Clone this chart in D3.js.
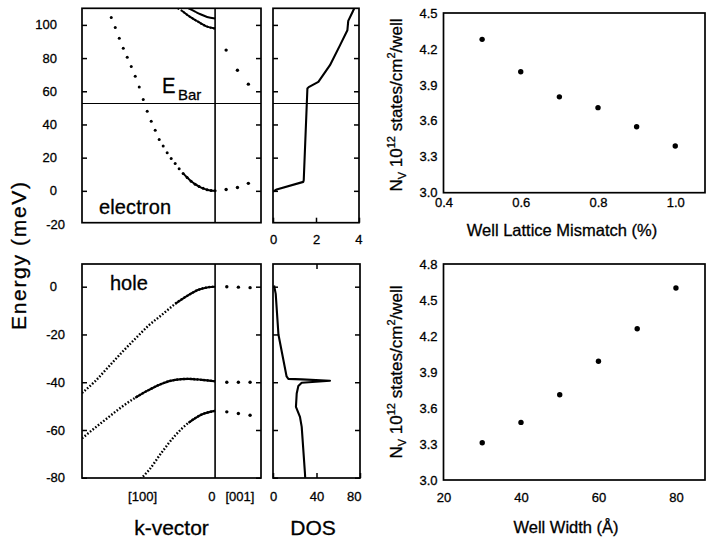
<!DOCTYPE html>
<html><head><meta charset="utf-8">
<script src="https://cdn.jsdelivr.net/npm/d3@7"></script>
<style>
body{margin:0;background:#fff}
svg{display:block}
text{font-family:"Liberation Sans",Arial,Helvetica,sans-serif;fill:#000;stroke:#000;stroke-width:0.3px}
</style>
</head><body>
<svg id="c" width="708" height="544"></svg>
<script>
// ---------------- DATA ----------------
// electron band along [100] : sampled dots (k, meV)
const elecK = [-0.78,-0.75,-0.72,-0.69,-0.66,-0.63,-0.60,-0.57,-0.54,-0.51,-0.48,-0.45,-0.42,-0.39,-0.36,-0.33,-0.30,-0.27,-0.24,-0.21,-0.18,-0.15,-0.12,-0.09,-0.06,-0.03,0];
const elecE = [104.5,98.5,92,86,80.5,75,69,62.5,55,48,42,36.5,31,27,23,19.5,16.5,13.3,10.5,8,5.8,4,2.6,1.5,0.7,0.2,0];
// upper electron subbands near k=0
const elecU1 = [[-0.2,110],[-0.15,108],[-0.11,106.4],[-0.06,104.8],[0,103.8]];
const elecU2 = [[-0.28,110],[-0.25,108.5],[-0.2,105.5],[-0.14,102.5],[-0.07,99.3],[0,97.8]];
// electron dots along [001]
const elec001a = [[0.083,84.8],[0.168,72.7],[0.25,64.3]];
const elec001b = [[0.083,0.8],[0.168,2],[0.25,4.5]];
// barrier energy (meV)
const eBar = 52.6;
// hole bands along [100]
const holeHH1 = [[-1.0,-44.5],[-0.9,-39.5],[-0.8,-33.5],[-0.7,-27.5],[-0.6,-21.8],[-0.5,-16.3],[-0.4,-11.8],[-0.3,-7.2],[-0.2,-3.5],[-0.12,-1.2],[-0.05,-0.2],[0,0]];
const holeLH1 = [[-1.0,-63.5],[-0.9,-59],[-0.8,-54.6],[-0.7,-50.3],[-0.6,-46.5],[-0.5,-43.3],[-0.4,-40.6],[-0.3,-39],[-0.2,-38.6],[-0.1,-39],[0,-39.6]];
const holeHH2 = [[-0.56,-80.5],[-0.5,-77],[-0.4,-69.3],[-0.3,-62.3],[-0.2,-57],[-0.1,-53.5],[0,-52]];
// hole dots along [001]
const hole001a = [[0.088,0],[0.175,-0.2],[0.263,-0.4]];
const hole001b = [[0.088,-40],[0.175,-40],[0.263,-40]];
const hole001c = [[0.088,-52.4],[0.175,-53.1],[0.263,-53.8]];
// density of states: [DOS, meV]
const dosElec = [[0,-0.5],[0.17,0.8],[1.41,5.4],[1.43,6.5],[1.6,61.7],[1.66,62.5],[2.11,65.7],[2.65,75.7],[3.12,87.8],[3.46,96.8],[3.5,102.4],[3.7,107.8],[3.78,110]];
const dosHole = [[1,0.5],[2.5,-3],[5,-20],[12.5,-37.6],[14.1,-38.6],[26.4,-38.8],[52.4,-39.4],[26.4,-40.2],[23.3,-41.6],[21.8,-44.7],[21.1,-50.3],[24.8,-54.5],[26.4,-58.7],[29.4,-78.2],[29.6,-80]];
// Nv vs mismatch
const mismatch = [0.5,0.6,0.7,0.8,0.9,1.0];
const nvMismatch = [4.28,4.01,3.80,3.71,3.55,3.39];
// Nv vs well width
const width = [30,40,50,60,70,80];
const nvWidth = [3.31,3.48,3.71,3.99,4.26,4.60];
// ticks
const eTopTicks = [0,20,40,60,80,100];
const eTopLabels = [-20,0,20,40,60,80,100];
const eBotTicks = [-80,-60,-40,-20,0];
const dosTopTicks = [0,2,4];
const dosBotTicks = [0,40,80];
const mismatchTicks = [0.4,0.6,0.8,1.0];
const widthTicks = [20,40,60,80];
const nvTicksTop = [3.0,3.3,3.6,3.9,4.2,4.5];
const nvTicksBot = [3.0,3.3,3.6,3.9,4.2,4.5,4.8];

// ---------------- SCALES ----------------
const svg = d3.select("#c");
const FONT = '"Liberation Sans", Arial, Helvetica, sans-serif';
const kX = d3.scaleLinear().domain([-1, 0.345]).range([82, 261]);
const eTopY = d3.scaleLinear().domain([-19.2, 110]).range([222.7, 8.3]);
const eBotY = d3.scaleLinear().domain([-80.1, 9.5]).range([478, 264]);
const dosTopX = d3.scaleLinear().domain([0, 4]).range([273, 359]);
const dosBotX = d3.scaleLinear().domain([0, 80]).range([273, 360]);
const mX = d3.scaleLinear().domain([0.4, 1.077]).range([443.5, 705]);
const mY = d3.scaleLinear().domain([3.0, 4.5]).range([192.7, 13]);
const wX = d3.scaleLinear().domain([20, 87.5]).range([443.5, 705]);
const wY = d3.scaleLinear().domain([3.0, 4.8]).range([480, 264]);

// ---------------- HELPERS ----------------
let clipId = 0;
function panel(xs, ys) {
  const [x0, x1] = xs.range(), [y0, y1] = [ys.range()[1], ys.range()[0]];
  const id = "clip" + (clipId++);
  svg.append("clipPath").attr("id", id).append("rect")
    .attr("x", x0).attr("y", y0).attr("width", x1 - x0).attr("height", y1 - y0);
  const g = svg.append("g").attr("clip-path", `url(#${id})`);
  return {g, x0, x1, y0, y1};
}
function frame(p) {
  svg.append("rect").attr("x", p.x0).attr("y", p.y0).attr("width", p.x1 - p.x0).attr("height", p.y1 - p.y0)
    .attr("fill", "none").attr("stroke", "#000").attr("stroke-width", 1.7);
}
function styleAxis(g) {
  g.attr("font-family", FONT).attr("font-size", 13);
  g.select(".domain").remove();
  g.selectAll("line").attr("stroke-width", 1.5);
}

// ---------------- BAND STRUCTURE (electron) ----------------
const pE = panel(kX, eTopY);
const bandLine = (ys) => d3.line().x(d => kX(d[0])).y(d => ys(d[1])).curve(d3.curveMonotoneX);
pE.g.selectAll("circle.e").data(elecK).join("circle")
  .attr("cx", (d) => kX(d)).attr("cy", (d, i) => eTopY(elecE[i])).attr("r", 1.5);
pE.g.append("path").datum(elecK.map((k, i) => [k, elecE[i]]).filter(d => d[0] >= -0.24))
  .attr("d", bandLine(eTopY)).attr("fill", "none").attr("stroke", "#000").attr("stroke-width", 2);
pE.g.append("path").datum(elecU1).attr("d", bandLine(eTopY)).attr("fill", "none").attr("stroke", "#000").attr("stroke-width", 2);
pE.g.append("path").datum(elecU2).attr("d", bandLine(eTopY)).attr("fill", "none").attr("stroke", "#000").attr("stroke-width", 2).attr("stroke-dasharray", "1.6,1.8");
pE.g.append("path").datum(elecU2.filter(d => d[0] >= -0.25)).attr("d", bandLine(eTopY)).attr("fill", "none").attr("stroke", "#000").attr("stroke-width", 2);
pE.g.selectAll("circle.d1").data(elec001a.concat(elec001b)).join("circle")
  .attr("cx", d => kX(d[0])).attr("cy", d => eTopY(d[1])).attr("r", 1.7);
// divider k=0 and barrier line
svg.append("line").attr("x1", kX(0)).attr("x2", kX(0)).attr("y1", pE.y0).attr("y2", pE.y1).attr("stroke", "#000").attr("stroke-width", 1.6);
svg.append("line").attr("x1", pE.x0).attr("x2", pE.x1).attr("y1", eTopY(eBar)).attr("y2", eTopY(eBar)).attr("stroke", "#000").attr("stroke-width", 1.1);
frame(pE);
svg.append("g").attr("transform", `translate(${pE.x0},0)`)
  .call(d3.axisLeft(eTopY).tickValues(eTopTicks).tickSizeInner(-5).tickSizeOuter(0).tickFormat("")).call(styleAxis);
svg.append("g").attr("transform", `translate(${pE.x1},0)`)
  .call(d3.axisRight(eTopY).tickValues(eTopTicks).tickSizeInner(-5).tickSizeOuter(0).tickFormat("")).call(styleAxis);
svg.append("g").selectAll("text").data(eTopLabels).join("text")
  .attr("x", d => d < 0 ? 65 : 57).attr("y", d => eTopY(d) + 4.6).attr("text-anchor", "end").attr("font-size", 13).text(d => d);

svg.append("text").attr("x", 99).attr("y", 214).attr("font-size", 20).attr("textLength", 72).text("electron");
svg.append("text").attr("x", 162).attr("y", 93).attr("font-size", 22).attr("textLength", 13.5).attr("lengthAdjust","spacingAndGlyphs").text("E");
svg.append("text").attr("x", 178).attr("y", 100).attr("font-size", 15).text("Bar");

// ---------------- DOS (electron) ----------------
const pDE = panel(dosTopX, eTopY);
pDE.g.append("path").datum(dosElec).attr("d", d3.line().x(d => dosTopX(d[0])).y(d => eTopY(d[1])))
  .attr("fill", "none").attr("stroke", "#000").attr("stroke-width", 2.1).attr("stroke-linejoin", "round");
svg.append("line").attr("x1", pDE.x0).attr("x2", pDE.x1).attr("y1", eTopY(eBar)).attr("y2", eTopY(eBar)).attr("stroke", "#000").attr("stroke-width", 1.1);
frame(pDE);
svg.append("g").attr("transform", `translate(${pDE.x0},0)`)
  .call(d3.axisLeft(eTopY).tickValues(eTopTicks).tickSizeInner(-5).tickSizeOuter(0).tickFormat("")).call(styleAxis);
svg.append("g").attr("transform", `translate(${pDE.x1},0)`)
  .call(d3.axisRight(eTopY).tickValues(eTopTicks).tickSizeInner(-5).tickSizeOuter(0).tickFormat("")).call(styleAxis);
svg.append("g").attr("transform", `translate(0,${pDE.y1})`)
  .call(d3.axisBottom(dosTopX).tickValues(dosTopTicks).tickSizeInner(-5).tickSizeOuter(0).tickPadding(12.5).tickFormat(d3.format("d"))).call(styleAxis)
  .call(g => g.selectAll(".tick text").attr("text-anchor", (d, i, n) => i === n.length - 1 ? "end" : "middle").attr("dx", (d, i, n) => i === n.length - 1 ? 3 : 0));

// ---------------- BAND STRUCTURE (hole) ----------------
const pH = panel(kX, eBotY);
const dotted = (data, solidFrom) => {
  pH.g.append("path").datum(data).attr("d", bandLine(eBotY)).attr("fill", "none").attr("stroke", "#000")
    .attr("stroke-width", 2.4).attr("stroke-dasharray", "1.6,1.8");
  pH.g.append("path").datum(data.filter(d => d[0] >= solidFrom)).attr("d", bandLine(eBotY)).attr("fill", "none")
    .attr("stroke", "#000").attr("stroke-width", 2.1);
};
dotted(holeHH1, -0.3);
dotted(holeLH1, -0.6);
dotted(holeHH2, -0.2);
pH.g.selectAll("circle.h").data(hole001a.concat(hole001b, hole001c)).join("circle")
  .attr("cx", d => kX(d[0])).attr("cy", d => eBotY(d[1])).attr("r", 1.7);
svg.append("line").attr("x1", kX(0)).attr("x2", kX(0)).attr("y1", pH.y0).attr("y2", pH.y1).attr("stroke", "#000").attr("stroke-width", 1.6);
frame(pH);
svg.append("g").attr("transform", `translate(${pH.x0},0)`)
  .call(d3.axisLeft(eBotY).tickValues(eBotTicks).tickSizeInner(-5).tickSizeOuter(0).tickFormat("")).call(styleAxis);
svg.append("g").attr("transform", `translate(${pH.x1},0)`)
  .call(d3.axisRight(eBotY).tickValues(eBotTicks).tickSizeInner(-5).tickSizeOuter(0).tickFormat("")).call(styleAxis);
svg.append("g").selectAll("text").data(eBotTicks).join("text")
  .attr("x", d => d < 0 ? 65 : 57).attr("y", d => eBotY(d) + 4.6).attr("text-anchor", "end").attr("font-size", 13).text(d => d);
svg.append("text").attr("x", 110).attr("y", 290).attr("font-size", 20).text("hole");
// k-axis labels
const kLabels = [["[100]", -0.545], ["0", -0.025], ["[001]", 0.187]];
svg.append("g").selectAll("text").data(kLabels).join("text")
  .attr("x", d => kX(d[1])).attr("y", 501).attr("text-anchor", "middle").attr("font-size", 13).text(d => d[0]);

// ---------------- DOS (hole) ----------------
const pDH = panel(dosBotX, eBotY);
pDH.g.append("path").datum(dosHole).attr("d", d3.line().x(d => dosBotX(d[0])).y(d => eBotY(d[1])))
  .attr("fill", "none").attr("stroke", "#000").attr("stroke-width", 2.1).attr("stroke-linejoin", "round");
frame(pDH);
svg.append("g").attr("transform", `translate(${pDH.x0},0)`)
  .call(d3.axisLeft(eBotY).tickValues(eBotTicks).tickSizeInner(-5).tickSizeOuter(0).tickFormat("")).call(styleAxis);
svg.append("g").attr("transform", `translate(${pDH.x1},0)`)
  .call(d3.axisRight(eBotY).tickValues(eBotTicks).tickSizeInner(-5).tickSizeOuter(0).tickFormat("")).call(styleAxis);
svg.append("g").attr("transform", `translate(0,${pDH.y0})`)
  .call(d3.axisTop(dosBotX).tickValues([40]).tickSizeInner(-5).tickSizeOuter(0).tickFormat("")).call(styleAxis);
svg.append("g").attr("transform", `translate(0,${pDH.y1})`)
  .call(d3.axisBottom(dosBotX).tickValues(dosBotTicks).tickSizeInner(-5).tickSizeOuter(0).tickPadding(14).tickFormat(d3.format("d"))).call(styleAxis)
  .call(g => g.selectAll(".tick text").attr("text-anchor", (d, i, n) => i === n.length - 1 ? "end" : "middle").attr("dx", (d, i, n) => i === n.length - 1 ? 1 : 0));

// axis titles (left block)
svg.append("text").attr("transform", "translate(26,256) rotate(-90)").attr("text-anchor", "middle")
  .attr("font-size", 21).attr("textLength", 148).text("Energy  (meV)");
svg.append("text").attr("x", 171.5).attr("y", 535).attr("text-anchor", "middle").attr("font-size", 21).text("k-vector");
svg.append("text").attr("x", 313).attr("y", 535).attr("text-anchor", "middle").attr("font-size", 21).text("DOS");

// ---------------- Nv vs mismatch ----------------
const pM = panel(mX, mY);
pM.g.selectAll("circle").data(mismatch).join("circle")
  .attr("cx", d => mX(d)).attr("cy", (d, i) => mY(nvMismatch[i])).attr("r", 2.7);
frame(pM);
svg.append("g").attr("transform", `translate(${pM.x0},0)`)
  .call(d3.axisLeft(mY).tickValues(nvTicksTop).tickSize(0).tickPadding(6).tickFormat(d3.format(".1f"))).call(styleAxis);
svg.append("g").attr("transform", `translate(0,${pM.y1})`)
  .call(d3.axisBottom(mX).tickValues(mismatchTicks).tickSize(0).tickPadding(5).tickFormat(d3.format(".1f"))).call(styleAxis);
svg.append("text").attr("x", 562).attr("y", 236).attr("text-anchor", "middle").attr("font-size", 16.5).text("Well Lattice Mismatch (%)");

// ---------------- Nv vs well width ----------------
const pW = panel(wX, wY);
pW.g.selectAll("circle").data(width).join("circle")
  .attr("cx", d => wX(d)).attr("cy", (d, i) => wY(nvWidth[i])).attr("r", 2.7);
frame(pW);
svg.append("g").attr("transform", `translate(${pW.x0},0)`)
  .call(d3.axisLeft(wY).tickValues(nvTicksBot).tickSize(0).tickPadding(6).tickFormat(d3.format(".1f"))).call(styleAxis);
svg.append("g").attr("transform", `translate(0,${pW.y1})`)
  .call(d3.axisBottom(wX).tickValues(widthTicks).tickSize(0).tickPadding(13).tickFormat(d3.format("d"))).call(styleAxis);
svg.append("text").attr("x", 566).attr("y", 533).attr("text-anchor", "middle").attr("font-size", 16.5).text("Well Width (Å)");

// Nv y-axis titles
function nvTitle(cy) {
  const t = svg.append("text").attr("transform", `translate(402,${cy}) rotate(-90)`).attr("text-anchor", "middle").attr("font-size", 17);
  t.append("tspan").text("N");
  t.append("tspan").attr("font-size", 11).attr("dy", 4).text("V");
  t.append("tspan").attr("dy", -4).text(" 10");
  t.append("tspan").attr("font-size", 11).attr("dy", -7).text("12");
  t.append("tspan").attr("dy", 7).text(" states/cm");
  t.append("tspan").attr("font-size", 11).attr("dy", -7).text("2");
  t.append("tspan").attr("dy", 7).text("/well");
}
nvTitle(105);
nvTitle(372);
</script>
</body></html>
